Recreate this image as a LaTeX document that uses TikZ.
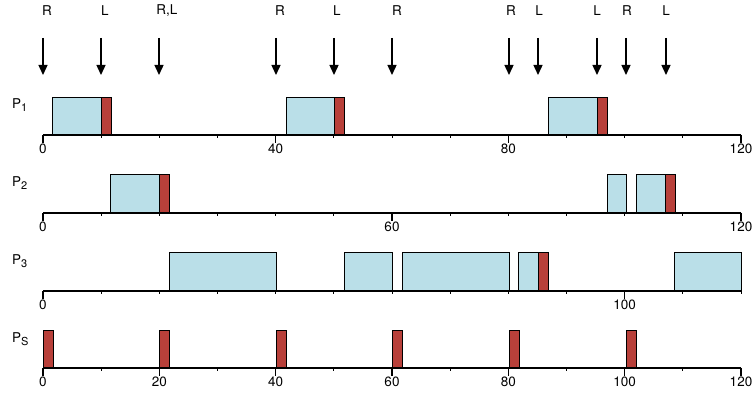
\documentclass[tikz,border=0pt]{standalone}
\usepackage{fontspec}
\setmainfont{TeX Gyre Heros}
\usetikzlibrary{arrows.meta}
\definecolor{busyblue}{HTML}{BADFE8}
\definecolor{lockred}{HTML}{B8403A}
\newcommand{\procsub}[1]{{\fontsize{11}{12}\selectfont\raisebox{-2.5pt}{#1}}}
\begin{document}
\begin{tikzpicture}[x=1pt,y=-1pt,
  axisline/.style={line width=1.5pt},
  minortick/.style={line width=0.9pt},
  majortick/.style={line width=1.5pt},
  busy/.style={draw=black, line width=0.8pt, fill=busyblue},
  lock/.style={draw=black, line width=0.8pt, fill=lockred},
  evarrow/.style={line width=1.4pt, -{Triangle[width=9pt,length=10pt]}},
  evlabel/.style={font=\fontsize{13.5}{15}\selectfont, inner sep=0pt},
  ticklabel/.style={font=\fontsize{13.5}{15}\selectfont, anchor=north, inner sep=0pt},
  proclabel/.style={font=\fontsize{13.5}{15}\selectfont, anchor=west, inner sep=0pt}]
\useasboundingbox (0,0) rectangle (756,398);

% event arrows
\foreach \ax/\lx/\txt [count=\i] in {43/47/R, 101/105/L, 159/167/{R,L}, 276/280/R, 334/337/L, 392/397/R, 509/511/R, 538/539/L, 597/597/L, 626/627/R, 666/666/L}{
  \node[evlabel] (ev\i) at (\lx,11) {\txt};
  \coordinate (evs\i) at (\ax,38);
  \coordinate (eve\i) at (\ax,75);
  \draw[evarrow] (evs\i) -- (eve\i);
}

% process labels
\node[proclabel] (p1) at (12,105) {P\procsub{1}};
\node[proclabel] (p2) at (12,183) {P\procsub{2}};
\node[proclabel] (p3) at (12,261) {P\procsub{3}};
\node[proclabel] (ps) at (12,339) {P\procsub{S}};

% boxes: P1
\foreach \a/\b in {52/101, 286/334, 548/597}{\draw[busy] (\a,97) rectangle (\b,135);}
\foreach \a/\b in {101/111, 334/344, 597/607}{\draw[lock] (\a,97) rectangle (\b,135);}
% P2
\foreach \a/\b in {110/159, 607/626, 636/665}{\draw[busy] (\a,174) rectangle (\b,213);}
\foreach \a/\b in {159/169, 665/675}{\draw[lock] (\a,174) rectangle (\b,213);}
% P3
\foreach \a/\b in {169/276, 344/392, 402/509, 518/538, 674/741}{\draw[busy] (\a,252) rectangle (\b,291);}
\foreach \a/\b in {538/548}{\draw[lock] (\a,252) rectangle (\b,291);}
% PS
\foreach \a in {43, 159, 276, 392, 509, 626}{\draw[lock] (\a,330) rectangle (\a+10,368);}

% axes
\foreach \y/\majors in {135/{0,4,8,12}, 213/{0,6,12}, 291/{0,10}, 368/{0,2,4,6,8,10,12}}{
  \draw[axisline] (43,\y) -- (741,\y);
  \foreach \k in {0,...,12}{
    \draw[minortick] ({43+58.1667*\k},\y) -- ({43+58.1667*\k},\y+3);
  }
  \foreach \k in \majors{
    \draw[majortick] ({43+58.1667*\k},\y) -- ({43+58.1667*\k},\y+8);
    \pgfmathtruncatemacro{\v}{10*\k}
    \node[ticklabel] at ({43+58.1667*\k},\y+9) {\v};
  }
}
\end{tikzpicture}
\end{document}
